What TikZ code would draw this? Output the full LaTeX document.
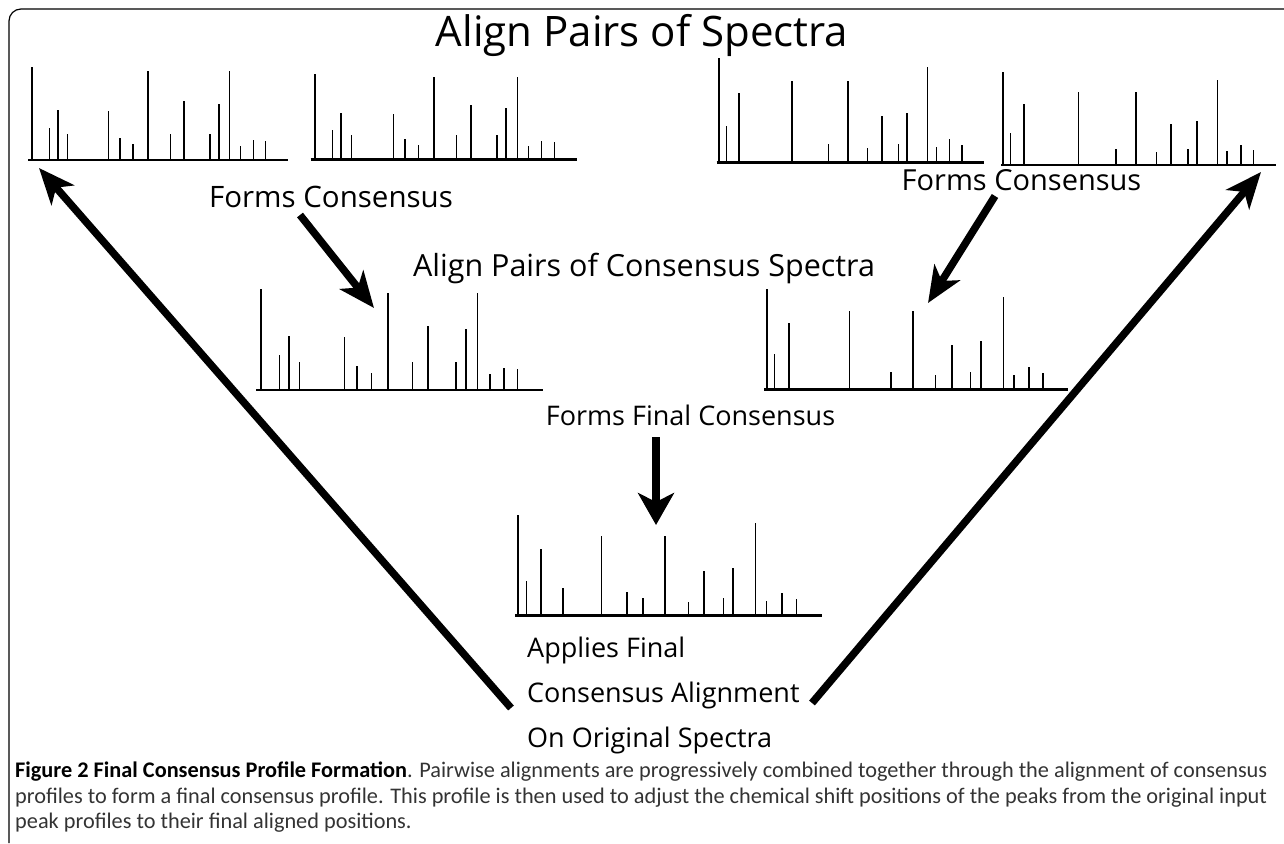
\documentclass[tikz,border=0pt]{standalone}
\usepackage{fontspec}
\setmainfont{Open Sans}
\newfontfamily\captionfont{Carlito}
\usepackage{tikz}
\usetikzlibrary{
	arrows.meta,
	calc,
	positioning
}
\tikzset{
	axisline/.style={line width=2.5pt},
	peak/.style={line width=#1},
	bigarrow/.style={line width=7.5pt,-{Stealth[length=36pt,width=30pt,inset=10pt]}},
	downarrow/.style={line width=8pt,-{Stealth[length=32pt,width=36pt,inset=9pt]}},
	stepname/.style={font=\fontsize{#1}{30}\selectfont,inner sep=0pt},
	stepname/.default=27
}
% peaks: offset/height/width
\def\peaksA{4.3/92.7/2pt, 21/32/1pt, 30/50/2pt, 39.7/26/1.5pt, 80.7/49/1pt, 92/22/2pt, 105/16/1.5pt, 120/89.3/2pt, 142.7/26/1pt, 156/59/2pt, 182/26/2pt, 191/56/2pt, 201.7/89.3/1pt, 212.7/14.3/1.5pt, 225.3/20/1.5pt, 237.7/19/1.5pt}
\def\peaksB{2.3/104/2pt, 9.3/36.3/1pt, 22.3/69/2pt, 75.3/81.6/1.5pt, 111.6/18/1.5pt, 131/81.6/2pt, 151/14.6/1pt, 165.3/46.3/2pt, 181.6/18/1.5pt, 190.6/49.6/2pt, 210.3/95.6/1pt, 219.6/15.3/1.5pt, 233/23/1.5pt, 245.3/17/1.5pt}
\def\peaksFinal{3.3/101/2pt, 11/35/1pt, 26/66.7/2pt, 48/27.7/1.5pt, 86.7/79.4/1.5pt, 112/23.7/1.5pt, 128/17.7/1.5pt, 150.3/79.4/2pt, 173.3/14/1pt, 189.3/45/2pt, 208.3/17.4/1.5pt, 218.3/48/2pt, 240.7/92.7/1pt, 251.7/15/1.5pt, 267/22.4/1.5pt, 281.3/16.4/1.5pt}
% #1 name, #2 origin, #3 axis length, #4 xscale, #5 yscale, #6 peaks
\newcommand{\drawSpectrum}[6]{
	\coordinate (#1) at #2;
	\draw[axisline] (#1) -- ++(#3,0);
	\foreach \peakx/\peakh/\peakw in #6
		\draw[peak=\peakw] ($(#1)+(\peakx*#4,0)$) -- ++(0,-\peakh*#5);
}

\begin{document}
\begin{tikzpicture}[x=1pt,y=-1pt]
	\useasboundingbox (0,0) rectangle (1284,843);
	\draw[line width=1.2pt,rounded corners=12pt] (9,843) -- (9,9) -- (1284,9);
	
	% Pairs of spectra
	\drawSpectrum{s1}{(28,160)}{260}{1}{1}{\peaksA}
	\drawSpectrum{s2}{(310.7,159.3)}{266.6}{1.025}{0.92}{\peaksA}
	\drawSpectrum{s3}{(716.7,162.3)}{267.3}{1}{1}{\peaksB}
	\drawSpectrum{s4}{(1001,165)}{275}{1.029}{0.89}{\peaksB}
	
	% Consensus spectra
	\drawSpectrum{c1}{(256,390)}{286.7}{1.1}{1.088}{\peaksA}
	\drawSpectrum{c2}{(764,389.3)}{304.3}{1.138}{0.965}{\peaksB}
	
	% Final consensus
	\drawSpectrum{fin}{(515,615.7)}{307}{1}{1}{\peaksFinal}
	
	\node[stepname=42] (title) at (642,35) {Align Pairs of Spectra};
	\node[stepname=29.5] (formsL) at (331,197) {Forms Consensus};
	\node[stepname=29] (formsR) at (1021.5,180) {Forms Consensus};
	\node[stepname=30.5] (alignC) at (644,268) {Align Pairs of Consensus Spectra};
	\node[stepname=27] (formsF) at (690.5,415) {Forms Final Consensus};
	\node[stepname,font=\fontsize{27}{45}\selectfont,align=left,anchor=west] (applies) at (527,695)
		{Applies Final\\Consensus Alignment\\On Original Spectra};
	
	\coordinate (fromL) at (300,215);
	\coordinate (toL) at (374,308);
	\coordinate (fromR) at (995,196);
	\coordinate (toR) at (928,303);
	\coordinate (fromF) at (656,437);
	\coordinate (toF) at (656,525);
	\coordinate (backL) at (511,708);
	\coordinate (backR) at (812,703);
	\draw[bigarrow] (fromL) -- (toL);
	\draw[bigarrow] (fromR) -- (toR);
	\draw[downarrow] (fromF) -- (toF);
	\draw[bigarrow] (backL) -- ($(s1)+(11,8)$);
	\draw[bigarrow] (backR) -- ($(s4)+(260,7)$);
	
	\node[anchor=north west,align=left,inner sep=0pt,text=black!80,
		font=\captionfont\fontsize{22.3}{25.5}\selectfont] (caption) at (15,762)
		{\textbf{\color{black}Figure 2 Final Consensus Profile Formation}. Pairwise alignments are progressively combined together through the alignment of consensus\\
		profiles to form a final consensus profile. This profile is then used to adjust the chemical shift positions of the peaks from the original input\\
		peak profiles to their final aligned positions.};
\end{tikzpicture}
\end{document}
